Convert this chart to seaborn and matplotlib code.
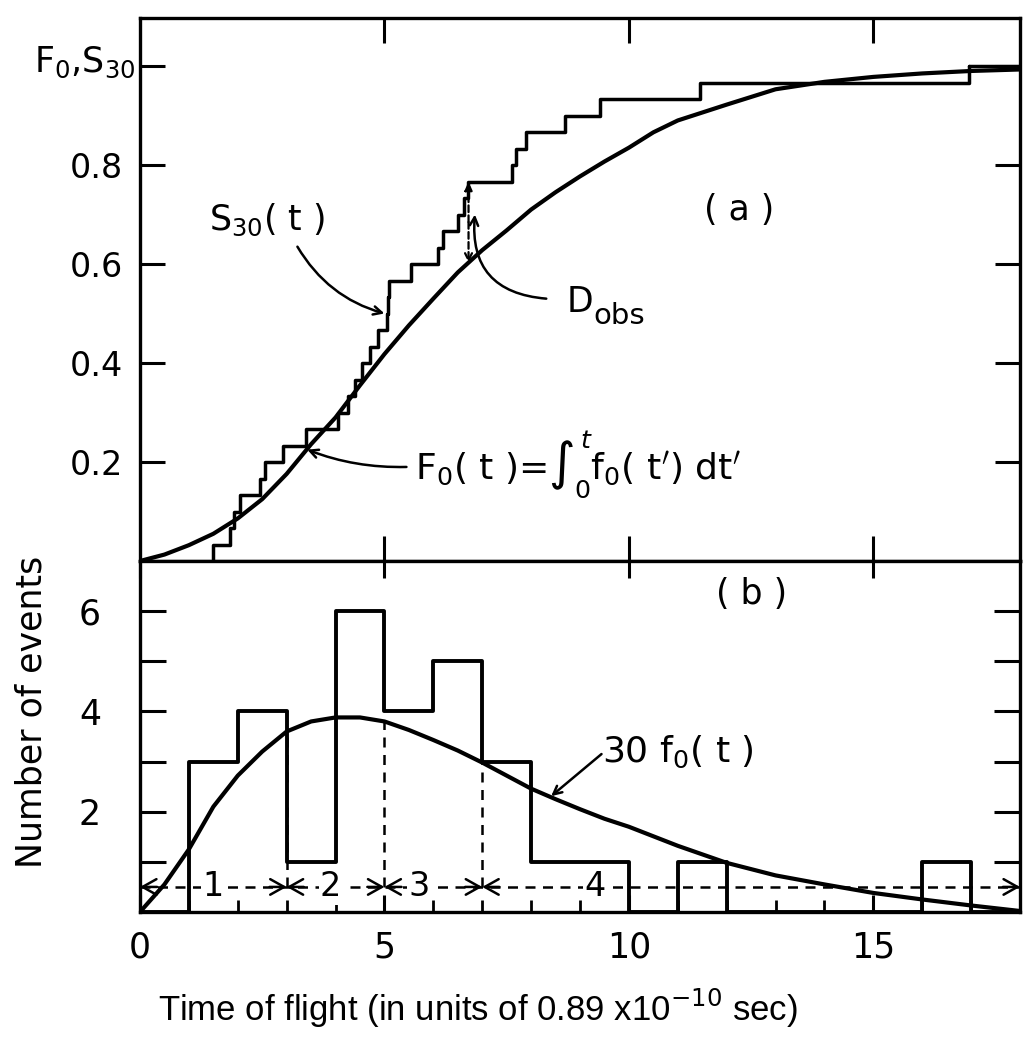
import numpy as np
import matplotlib
matplotlib.use("Agg")
import matplotlib.pyplot as plt
import seaborn as sns

# ---------------- data ----------------
# times of the 30 observed events (steps of S30 / entries of histogram)
event_times = [1.50, 1.85, 1.92, 2.05, 2.45, 2.55, 2.92, 3.40,
               4.05, 4.25, 4.40, 4.55, 4.70, 4.86,
               5.05, 5.08, 5.10, 5.55,
               6.10, 6.20, 6.50, 6.62, 6.70,
               7.60, 7.70, 7.90, 8.70, 9.40, 11.45, 16.95]
hist_bins = list(range(0, 19))

# expected cumulative distribution F0(t)
t_F0 = [0, 0.5, 1, 1.5, 2, 2.5, 3, 3.5, 4, 4.5, 5, 5.5, 6, 6.5, 7, 7.5,
        8, 8.5, 9, 9.5, 10, 10.5, 11, 12, 13, 14, 15, 16, 17, 18]
F0_vals = [0, 0.013, 0.032, 0.055, 0.086, 0.125, 0.176, 0.236, 0.290, 0.355,
           0.418, 0.476, 0.530, 0.583, 0.628, 0.668, 0.710, 0.745, 0.777,
           0.807, 0.835, 0.866, 0.890, 0.922, 0.953, 0.968, 0.978, 0.985,
           0.990, 0.993]

# expected number of events 30 f0(t)
t_f0 = [0, 0.5, 1, 1.5, 2, 2.5, 3, 3.5, 4, 4.5, 5, 5.5, 6, 6.5, 7, 7.5,
        8, 8.5, 9, 9.5, 10, 11, 12, 13, 14, 15, 16, 17, 18]
f0_30_vals = [0, 0.55, 1.25, 2.10, 2.72, 3.20, 3.60, 3.80, 3.88, 3.88,
              3.80, 3.63, 3.43, 3.22, 2.98, 2.72, 2.46, 2.25, 2.05, 1.86,
              1.70, 1.32, 0.98, 0.73, 0.55, 0.38, 0.25, 0.13, 0.02]

# intervals used in panel (b)
interval_edges = [0, 3, 5, 7, 18]
interval_labels = ["1", "2", "3", "4"]
interval_level = 0.5
interval_label_x = [1.5, 3.9, 5.7, 9.3]

x_max = 18
d_obs_t = 6.72

# ---------------- style ----------------
sns.set_style("white")
plt.rcParams.update({
    "font.family": ["DejaVu Sans"],
    "mathtext.fontset": "dejavusans",
    "axes.linewidth": 2.2,
    "axes.edgecolor": "black",
    "text.color": "black",
    "axes.labelcolor": "black",
    "xtick.direction": "in",
    "ytick.direction": "in",
    "xtick.color": "black",
    "ytick.color": "black",
})

W, H = 1033, 1038
fig = plt.figure(figsize=(W / 100, H / 100), dpi=100)


def fx(px):
    return px / W


def fy(py):
    return 1 - py / H


L, R = 140, 1020
A_top, A_bot = 18, 561
B_top, B_bot = 561, 912
axa = fig.add_axes([fx(L), fy(A_bot), (R - L) / W, (A_bot - A_top) / H])
axb = fig.add_axes([fx(L), fy(B_bot), (R - L) / W, (B_bot - B_top) / H])

LW_CURVE = 3.0
LW_STEP = 2.5
ARW = "->,head_length=0.6,head_width=0.3"

# ---------------- panel (a) ----------------
sns.lineplot(x=t_F0, y=F0_vals, ax=axa, color="black", lw=LW_CURVE)
sns.ecdfplot(x=event_times, ax=axa, color="black", lw=LW_STEP)
axa.plot([max(event_times), x_max], [1, 1], color="black", lw=LW_STEP)

axa.set_xlim(0, x_max)
axa.set_ylim(0, 1.097)
axa.set_xlabel("")
axa.set_ylabel("")
axa.set_xticks([5, 10, 15])
axa.tick_params(axis="x", which="both", top=True, bottom=True,
                labelbottom=False, length=18, width=2.2)
axa.set_yticks([0.2, 0.4, 0.6, 0.8, 1.0])
axa.set_yticklabels(["0.2", "0.4", "0.6", "0.8", ""])
axa.tick_params(axis="y", left=True, right=True, length=18, width=2.2,
                labelsize=24, pad=12)
for s in axa.spines.values():
    s.set_linewidth(2.4)

# S30 label
axa.text(2.6, 0.69, r"S$_{30}$( t )", fontsize=25, ha="center", va="center")
axa.annotate("", xy=(5.0, 0.50), xytext=(3.22, 0.635),
             arrowprops=dict(arrowstyle=ARW, lw=1.8, color="black",
                             shrinkA=0, shrinkB=0,
                             connectionstyle="arc3,rad=0.2"))

# F0 label
axa.text(5.62, 0.165, r"F$_0$( t )=$\int_0^t$f$_0$( t$'$) dt$'$", fontsize=26,
         ha="left", va="baseline")
axa.annotate("", xy=(3.42, 0.225), xytext=(5.45, 0.19),
             arrowprops=dict(arrowstyle=ARW, lw=1.8, color="black",
                             shrinkA=0, shrinkB=0,
                             connectionstyle="arc3,rad=-0.1"))

# D_obs
s30_at = np.searchsorted(np.sort(event_times), d_obs_t, side="right") / len(event_times)
f0_at = np.interp(d_obs_t, t_F0, F0_vals)
axa.annotate("", xy=(d_obs_t, s30_at), xytext=(d_obs_t, (s30_at + f0_at) / 2),
             arrowprops=dict(arrowstyle="-|>,head_length=0.5,head_width=0.22",
                             lw=1.6, color="black", shrinkA=0, shrinkB=0,
                             linestyle=(0, (3, 1.5))))
axa.annotate("", xy=(d_obs_t, f0_at), xytext=(d_obs_t, (s30_at + f0_at) / 2),
             arrowprops=dict(arrowstyle="->,head_length=0.5,head_width=0.25",
                             lw=1.6, color="black", shrinkA=0, shrinkB=0,
                             linestyle=(0, (3, 1.5))))
axa.text(8.73, 0.503, "D", fontsize=25, ha="left", va="baseline")
axa.text(9.27, 0.478, "obs", fontsize=21, ha="left", va="baseline")
axa.annotate("", xy=(6.85, 0.70), xytext=(8.31, 0.53),
             arrowprops=dict(arrowstyle=ARW, lw=1.8, color="black",
                             shrinkA=0, shrinkB=0,
                             connectionstyle="arc3,rad=-0.5"))
axa.text(12.25, 0.71, "( a )", fontsize=25, ha="center", va="center")

# ---------------- panel (b) ----------------
sns.histplot(x=event_times, bins=hist_bins, element="step", fill=False,
             color="black", lw=2.8, ax=axb)
sns.lineplot(x=t_f0, y=f0_30_vals, ax=axb, color="black", lw=LW_CURVE)

axb.set_xlim(0, x_max)
axb.set_ylim(0, 7)
axb.set_xlabel("")
axb.set_ylabel("")
axb.set_xticks([0, 5, 10, 15])
axb.set_xticklabels(["0", "5", "10", "15"])
axb.set_xticks(range(0, 19), minor=True)
axb.tick_params(axis="x", which="major", top=True, bottom=True, length=12,
                width=2.2, labelsize=25, pad=13)
axb.tick_params(axis="x", which="minor", top=False, bottom=True, length=9,
                width=2.0)
axb.set_yticks(range(1, 7))
axb.set_yticklabels(["", "2", "", "4", "", "6"])
axb.tick_params(axis="y", left=True, right=True, length=19, width=2.2,
                labelsize=25, pad=28)
for s in axb.spines.values():
    s.set_linewidth(2.4)

# interval arrows
axb.plot([interval_edges[0], interval_edges[-1]], [interval_level] * 2,
         color="black", lw=1.8, ls=(0, (4, 3)))
for a, b in zip(interval_edges[:-1], interval_edges[1:]):
    for tip, tail in ((a, a + 0.35), (b, b - 0.35)):
        axb.annotate("", xy=(tip, interval_level), xytext=(tail, interval_level),
                     arrowprops=dict(arrowstyle="->,head_length=0.5,head_width=0.28",
                                     lw=1.8, color="black", shrinkA=0, shrinkB=0,
                                     mutation_scale=20))
for lab, xl in zip(interval_labels, interval_label_x):
    axb.text(xl, interval_level, lab, fontsize=24, ha="center", va="center",
             bbox=dict(facecolor="white", edgecolor="none", pad=1.0))
for e in interval_edges[1:-1]:
    top = np.interp(e, t_f0, f0_30_vals)
    axb.plot([e, e], [interval_level, top], color="black", lw=1.8,
             ls=(0, (4, 3)))

axb.text(12.5, 6.35, "( b )", fontsize=25, ha="center", va="center")
axb.text(9.46, 3.0, r"30 f$_0$( t )", fontsize=26, ha="left", va="baseline")
axb.annotate("", xy=(8.41, 2.31), xytext=(9.44, 3.15),
             arrowprops=dict(arrowstyle=ARW, lw=1.8, color="black",
                             shrinkA=0, shrinkB=0))

# ---------------- axis titles ----------------
fig.text(fx(85), fy(62), r"F$_0$,S$_{30}$", fontsize=25, ha="center",
         va="center")
fig.text(fx(32), fy(712), "Number of events", fontsize=25, rotation=90,
         ha="center", va="center")
fig.text(fx(478), fy(1008), r"Time of flight (in units of 0.89 x10$^{-10}$ sec)",
         fontsize=25, ha="center", va="center",
         family=["Liberation Sans Narrow", "Liberation Sans", "DejaVu Sans"])

fig.savefig("out.png", dpi=100)
